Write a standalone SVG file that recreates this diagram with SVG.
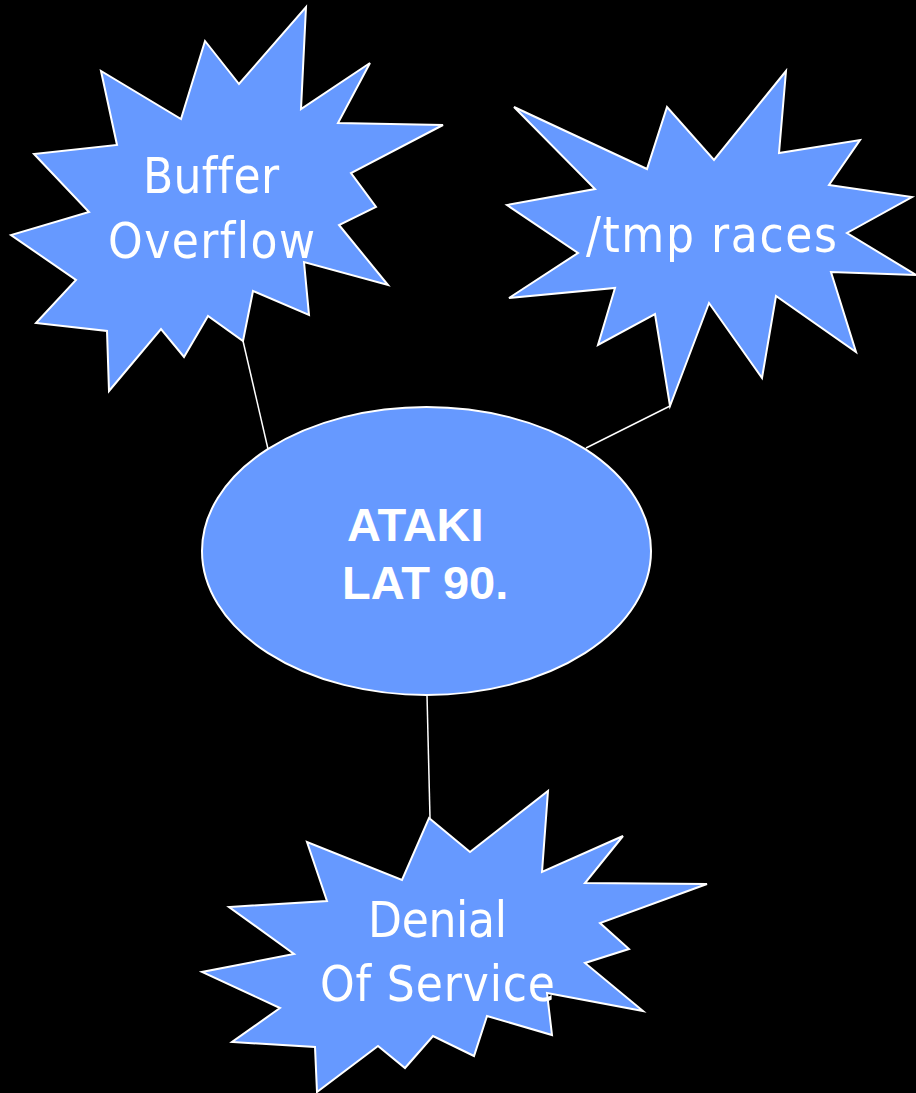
<svg xmlns="http://www.w3.org/2000/svg" width="916" height="1093" viewBox="0 0 916 1093">
<style>
.shape{fill:#6699FF;stroke:#FFFFFF;stroke-width:2;stroke-linejoin:miter}
.conn{stroke:#FFFFFF;stroke-width:1.5;fill:none}
.lbl{fill:#FFFFFF;font-family:"DejaVu Sans Condensed","DejaVu Sans",sans-serif;font-size:49px;text-anchor:middle;font-variant-ligatures:none}
.bold{fill:#FFFFFF;font-family:"Liberation Sans",Arial,sans-serif;font-size:47px;font-weight:bold}
</style>
<rect x="0" y="0" width="916" height="1093" fill="#000000"/>
<g id="connectors">
<line class="conn" x1="243" y1="341" x2="268" y2="449"/>
<line class="conn" x1="670" y1="406" x2="586" y2="448"/>
<line class="conn" x1="427" y1="695" x2="430" y2="818"/>
</g>
<g id="buffer-overflow">
<polygon class="shape" points="306,7 301,109 370,63 338,123 443,125 351,173 376,207 339,225 388,285 304,262 309,315 253,291 243,341 208,316 184,357 161,329 109,391 107,331 36,323 76,280 11,235 89,212 34,154 117,145 101,71 181,119 205,41 239,84"/>
<text class="lbl" x="211" y="193" textLength="136">Buffer</text>
<text class="lbl" x="211.5" y="258" textLength="207">Overflow</text>
</g>
<g id="tmp-races">
<polygon class="shape" points="786,71 779,153 860,140 829,185 912,197 847,233 916,275 831,272 856,352 776,296 762,378 709,303 670,406 655,314 598,345 615,288 509,298 578,253 507,205 595,189 514,107 647,169 667,107 714,160"/>
<text class="lbl" x="711.5" y="252" textLength="251">/tmp races</text>
</g>
<g id="ataki">
<ellipse class="shape" cx="426.5" cy="551" rx="224.5" ry="144"/>
<text class="bold" x="347" y="541">ATAKI</text>
<text class="bold" x="342" y="599">LAT 90.</text>
</g>
<g id="denial-of-service">
<polygon class="shape" points="429,818 470,852 548,791 542,872 623,836 585,883 707,884 600,923 629,949 585,963 643,1011 547,993 552,1035 487,1016 474,1056 433,1036 405,1068 378,1046 317,1092 315,1047 232,1042 280,1008 202,972 294,954 229,907 327,901 307,842 402,880"/>
<text class="lbl" x="437.5" y="937" textLength="139">Denial</text>
<text class="lbl" x="437.5" y="1001" textLength="235">Of Service</text>
</g>
</svg>
